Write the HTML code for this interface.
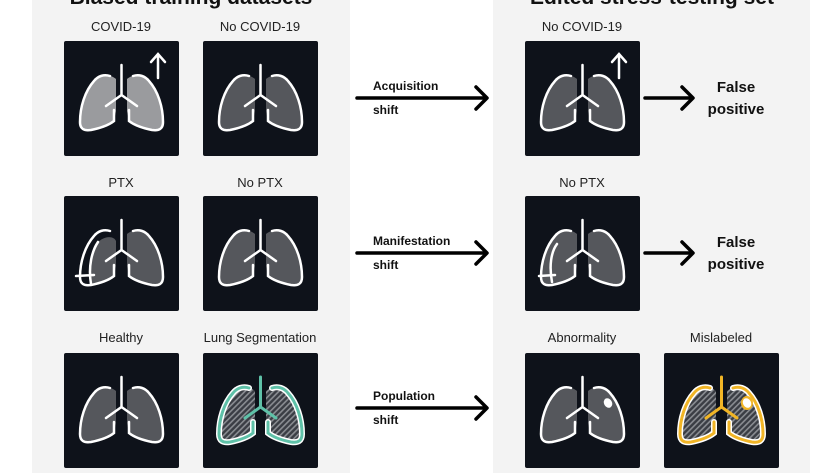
<!DOCTYPE html>
<html><head><meta charset="utf-8"><style>
body{margin:0;width:840px;height:473px;background:#fff;position:relative;overflow:hidden;font-family:"Liberation Sans",sans-serif;color:#111}
.panel{position:absolute;top:0;height:473px;background:#f3f3f3}
.t{position:absolute;font-size:13px;text-align:center;width:160px;color:#222}
.h{position:absolute;font-size:21px;font-weight:bold;top:-14px;text-align:center;width:318px}
.box{position:absolute;width:115px;height:115px;background:#0e121a;border-radius:2px}
.al{position:absolute;font-size:12px;font-weight:bold}
.fp{position:absolute;font-size:15px;font-weight:bold;text-align:center;width:80px;line-height:22px}
svg{position:absolute;left:0;top:0}
</style></head><body>
<svg width="0" height="0" style="position:absolute">
<defs>
<pattern id="hat" width="4" height="4" patternUnits="userSpaceOnUse" patternTransform="rotate(45)"><rect width="4" height="4" fill="#3a3d44"/><rect width="1.6" height="4" fill="#8a8d92"/></pattern>
<symbol id="fillL" viewBox="0 0 115 115"><path d="M52,38 C46,33 38,33 32,38 C22,47 16,66 16,81 C16,88 20,90 27,89 C37,87 45,84 50,80 L52,70 Z"/></symbol>
<symbol id="fillR" viewBox="0 0 115 115"><path d="M63,38 C69,33 77,33 83,38 C93,47 99,66 99,81 C99,88 95,90 88,89 C78,87 70,84 65,80 L63,70 Z"/></symbol>
</defs></svg>

<div class="panel" style="left:32px;width:318px"></div>
<div class="panel" style="left:493px;width:317px"></div>
<div class="h" style="left:32px">Biased training datasets</div>
<div class="h" style="left:493px">Edited stress-testing set</div>

<!-- labels -->
<div class="t" style="left:41px;top:19px">COVID-19</div>
<div class="t" style="left:180px;top:19px">No COVID-19</div>
<div class="t" style="left:502px;top:19px">No COVID-19</div>
<div class="t" style="left:41px;top:175px">PTX</div>
<div class="t" style="left:180px;top:175px">No PTX</div>
<div class="t" style="left:502px;top:175px">No PTX</div>
<div class="t" style="left:41px;top:330px">Healthy</div>
<div class="t" style="left:180px;top:330px">Lung Segmentation</div>
<div class="t" style="left:502px;top:330px">Abnormality</div>
<div class="t" style="left:641px;top:330px">Mislabeled</div>

<!-- generic lung markup per box -->
<div class="box" style="left:64px;top:41px"><svg width="115" height="115">
<use href="#fillL" fill="#9a9b9e" width="115" height="115"/><use href="#fillR" fill="#9a9b9e" width="115" height="115"/>
<g fill="none" stroke="#fff" stroke-width="2.5" stroke-linecap="round"><path d="M46,35 C40,33 34,35 30,40 C21,50 16,66 16,81 C16,88 20,90 27,89 C37,87 45,84 50,80 L50,69"/><path d="M69,35 C75,33 81,35 85,40 C94,50 99,66 99,81 C99,88 95,90 88,89 C78,87 70,84 65,80 L65,69"/><path d="M57.5,24 V54 L42,65 M57.5,54 L73,65"/><path d="M94,37 V14 M87,21 L94,13 L101,21"/></g></svg></div>

<div class="box" style="left:203px;top:41px"><svg width="115" height="115">
<use href="#fillL" fill="#55575c" width="115" height="115"/><use href="#fillR" fill="#55575c" width="115" height="115"/>
<g fill="none" stroke="#fff" stroke-width="2.5" stroke-linecap="round"><path d="M46,35 C40,33 34,35 30,40 C21,50 16,66 16,81 C16,88 20,90 27,89 C37,87 45,84 50,80 L50,69"/><path d="M69,35 C75,33 81,35 85,40 C94,50 99,66 99,81 C99,88 95,90 88,89 C78,87 70,84 65,80 L65,69"/><path d="M57.5,24 V54 L42,65 M57.5,54 L73,65"/></g></svg></div>

<div class="box" style="left:525px;top:41px"><svg width="115" height="115">
<use href="#fillL" fill="#55575c" width="115" height="115"/><use href="#fillR" fill="#55575c" width="115" height="115"/>
<g fill="none" stroke="#fff" stroke-width="2.5" stroke-linecap="round"><path d="M46,35 C40,33 34,35 30,40 C21,50 16,66 16,81 C16,88 20,90 27,89 C37,87 45,84 50,80 L50,69"/><path d="M69,35 C75,33 81,35 85,40 C94,50 99,66 99,81 C99,88 95,90 88,89 C78,87 70,84 65,80 L65,69"/><path d="M57.5,24 V54 L42,65 M57.5,54 L73,65"/><path d="M94,37 V14 M87,21 L94,13 L101,21"/></g></svg></div>

<div class="box" style="left:64px;top:196px"><svg width="115" height="115">
<path d="M30,50 C40,38 50,40 52,45 L52,70 L50,80 C45,84 37,87 27,89 C24,80 26,62 30,50Z" fill="#55575c"/><use href="#fillR" fill="#55575c" width="115" height="115"/>
<g fill="none" stroke="#fff" stroke-width="2.5" stroke-linecap="round"><path d="M46,35 C40,33 34,35 30,40 C21,50 16,66 16,81 C16,88 20,90 27,89 C37,87 45,84 50,80 L50,69"/><path d="M69,35 C75,33 81,35 85,40 C94,50 99,66 99,81 C99,88 95,90 88,89 C78,87 70,84 65,80 L65,69"/><path d="M57.5,24 V54 L42,65 M57.5,54 L73,65"/><path d="M12,80 L30,79 M34,46 C28,55 24,70 27,88"/></g></svg></div>

<div class="box" style="left:203px;top:196px"><svg width="115" height="115">
<use href="#fillL" fill="#55575c" width="115" height="115"/><use href="#fillR" fill="#55575c" width="115" height="115"/>
<g fill="none" stroke="#fff" stroke-width="2.5" stroke-linecap="round"><path d="M46,35 C40,33 34,35 30,40 C21,50 16,66 16,81 C16,88 20,90 27,89 C37,87 45,84 50,80 L50,69"/><path d="M69,35 C75,33 81,35 85,40 C94,50 99,66 99,81 C99,88 95,90 88,89 C78,87 70,84 65,80 L65,69"/><path d="M57.5,24 V54 L42,65 M57.5,54 L73,65"/></g></svg></div>

<div class="box" style="left:525px;top:196px"><svg width="115" height="115">
<use href="#fillL" fill="#55575c" width="115" height="115"/><use href="#fillR" fill="#55575c" width="115" height="115"/>
<g fill="none" stroke="#fff" stroke-width="2.5" stroke-linecap="round"><path d="M46,35 C40,33 34,35 30,40 C21,50 16,66 16,81 C16,88 20,90 27,89 C37,87 45,84 50,80 L50,69"/><path d="M69,35 C75,33 81,35 85,40 C94,50 99,66 99,81 C99,88 95,90 88,89 C78,87 70,84 65,80 L65,69"/><path d="M57.5,24 V54 L42,65 M57.5,54 L73,65"/><path d="M14,80 L30,79 M32,48 C26,56 24,70 27,86"/></g></svg></div>

<div class="box" style="left:64px;top:353px"><svg width="115" height="115">
<use href="#fillL" fill="#55575c" width="115" height="115"/><use href="#fillR" fill="#55575c" width="115" height="115"/>
<g fill="none" stroke="#fff" stroke-width="2.5" stroke-linecap="round"><path d="M46,35 C40,33 34,35 30,40 C21,50 16,66 16,81 C16,88 20,90 27,89 C37,87 45,84 50,80 L50,69"/><path d="M69,35 C75,33 81,35 85,40 C94,50 99,66 99,81 C99,88 95,90 88,89 C78,87 70,84 65,80 L65,69"/><path d="M57.5,24 V54 L42,65 M57.5,54 L73,65"/></g></svg></div>

<div class="box" style="left:203px;top:353px"><svg width="115" height="115">
<use href="#fillL" fill="url(#hat)" width="115" height="115"/><use href="#fillR" fill="url(#hat)" width="115" height="115"/>
<g fill="none" stroke-linecap="round"><path stroke="#fff" stroke-width="6" d="M46,35 C40,33 34,35 30,40 C21,50 16,66 16,81 C16,88 20,90 27,89 C37,87 45,84 50,80 L50,69"/><path stroke="#fff" stroke-width="6" d="M69,35 C75,33 81,35 85,40 C94,50 99,66 99,81 C99,88 95,90 88,89 C78,87 70,84 65,80 L65,69"/>
<path stroke="#5fc1a8" stroke-width="3" d="M46,35 C40,33 34,35 30,40 C21,50 16,66 16,81 C16,88 20,90 27,89 C37,87 45,84 50,80 L50,69"/><path stroke="#5fc1a8" stroke-width="3" d="M69,35 C75,33 81,35 85,40 C94,50 99,66 99,81 C99,88 95,90 88,89 C78,87 70,84 65,80 L65,69"/><path stroke="#5fc1a8" stroke-width="3" d="M57.5,24 V54 L42,65 M57.5,54 L73,65"/></g></svg></div>

<div class="box" style="left:525px;top:353px"><svg width="115" height="115">
<use href="#fillL" fill="#55575c" width="115" height="115"/><use href="#fillR" fill="#55575c" width="115" height="115"/>
<g fill="none" stroke="#fff" stroke-width="2.5" stroke-linecap="round"><path d="M46,35 C40,33 34,35 30,40 C21,50 16,66 16,81 C16,88 20,90 27,89 C37,87 45,84 50,80 L50,69"/><path d="M69,35 C75,33 81,35 85,40 C94,50 99,66 99,81 C99,88 95,90 88,89 C78,87 70,84 65,80 L65,69"/><path d="M57.5,24 V54 L42,65 M57.5,54 L73,65"/></g><ellipse cx="83" cy="50" rx="4" ry="5" fill="#fff" transform="rotate(-30 83 50)"/></svg></div>

<div class="box" style="left:664px;top:353px"><svg width="115" height="115">
<use href="#fillL" fill="url(#hat)" width="115" height="115"/><use href="#fillR" fill="url(#hat)" width="115" height="115"/>
<g fill="none" stroke-linecap="round"><path stroke="#fff" stroke-width="6" d="M46,35 C40,33 34,35 30,40 C21,50 16,66 16,81 C16,88 20,90 27,89 C37,87 45,84 50,80 L50,69"/><path stroke="#fff" stroke-width="6" d="M69,35 C75,33 81,35 85,40 C94,50 99,66 99,81 C99,88 95,90 88,89 C78,87 70,84 65,80 L65,69"/>
<path stroke="#f1b526" stroke-width="3" d="M46,35 C40,33 34,35 30,40 C21,50 16,66 16,81 C16,88 20,90 27,89 C37,87 45,84 50,80 L50,69"/><path stroke="#f1b526" stroke-width="3" d="M69,35 C75,33 81,35 85,40 C94,50 99,66 99,81 C99,88 95,90 88,89 C78,87 70,84 65,80 L65,69"/><path stroke="#f1b526" stroke-width="3" d="M57.5,24 V54 L42,65 M57.5,54 L73,65"/></g><ellipse cx="83" cy="50" rx="6" ry="7" fill="#f1b526"/><ellipse cx="83" cy="50" rx="4" ry="5" fill="#fff" transform="rotate(-30 83 50)"/></svg></div>

<!-- arrows -->
<svg width="840" height="473" style="pointer-events:none">
<g stroke="#000" stroke-width="3.5" fill="none" stroke-linecap="round" stroke-linejoin="round">
<path d="M357,98 H486 M476,87 L487,98 L476,109"/>
<path d="M357,253 H486 M476,242 L487,253 L476,264"/>
<path d="M357,408 H486 M476,397 L487,408 L476,419"/>
<path d="M645,98 H692 M682,87 L693,98 L682,109"/>
<path d="M645,253 H692 M682,242 L693,253 L682,264"/>
</g></svg>
<div class="al" style="left:373px;top:79px">Acquisition</div>
<div class="al" style="left:373px;top:103px">shift</div>
<div class="al" style="left:373px;top:234px">Manifestation</div>
<div class="al" style="left:373px;top:258px">shift</div>
<div class="al" style="left:373px;top:389px">Population</div>
<div class="al" style="left:373px;top:413px">shift</div>
<div class="fp" style="left:696px;top:77px">False<br>positive</div>
<div class="fp" style="left:696px;top:232px">False<br>positive</div>
</body></html>
